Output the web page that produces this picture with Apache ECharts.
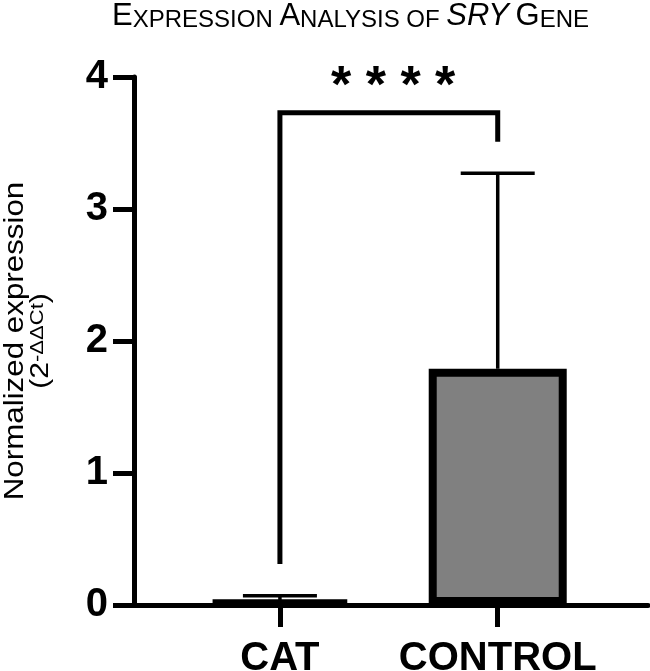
<!DOCTYPE html>
<html>
<head>
<meta charset="utf-8">
<script src="https://cdn.jsdelivr.net/npm/echarts@6/dist/echarts.min.js"></script>
<style>
  html, body { margin: 0; padding: 0; background: #fff; }
  #chart { width: 650px; height: 671px; }
</style>
</head>
<body>
<div id="chart"></div>
<script>
// data
var categories = ["CAT", "CONTROL"];
var means = [0.025, 1.79];
var sd = [0.045, 1.48];          // upper error bar length
var yTicks = [0, 1, 2, 3, 4];
var sigLabel = "* * * *";
var bracketX = [0, 0, 1, 1];
var bracketY = [0.31, 3.73, 3.73, 3.51];
var sigPos = [0.52, 3.92];

var font = "'Liberation Sans', Arial, sans-serif";
var chart = echarts.init(document.getElementById("chart"));

var barData = [];
var errData = [];
for (var i = 0; i < categories.length; i++) {
  barData.push([i, means[i]]);
  errData.push([i, means[i], means[i] + sd[i]]);
}

var option = {
  animation: false,
  backgroundColor: "#fff",
  title: {
    text: "{b|E}{s|XPRESSION} {b|A}{s|NALYSIS} {s|OF} {bi|SRY} {b|G}{s|ENE}",
    left: 112,
    top: 0,
    padding: 0,
    textStyle: {
      fontFamily: font,
      fontSize: 24,
      fontWeight: "normal",
      color: "#000",
      rich: {
        b: { fontFamily: font, fontSize: 31, color: "#000", verticalAlign: "bottom", lineHeight: 32 },
        s: { fontFamily: font, fontSize: 24, color: "#000", verticalAlign: "bottom", lineHeight: 32 },
        bi: { fontFamily: font, fontSize: 31, fontStyle: "italic", color: "#000", verticalAlign: "bottom", lineHeight: 32 }
      }
    }
  },
  // y axis title, stretched a bit along its length like the original
  graphic: [
    {
      type: "text",
      x: 28.5,
      y: 341,
      rotation: Math.PI / 2,
      scaleX: 1.16,
      style: {
        text: "{n|Normalized expression}\n{p|(2}{s|-ΔΔCt}{p|)}",
        align: "center",
        verticalAlign: "middle",
        fill: "#000",
        rich: {
          n: { fontFamily: font, fontSize: 27, lineHeight: 25, fill: "#000" },
          p: { fontFamily: font, fontSize: 26, lineHeight: 25, fill: "#000" },
          s: { fontFamily: font, fontSize: 19, lineHeight: 25, fill: "#000", verticalAlign: "top" }
        }
      }
    }
  ],
  grid: { left: 134, right: 2, top: 77, bottom: 66, outerBoundsMode: "none" },
  xAxis: {
    type: "value",
    min: -0.67,
    max: 1.69,
    splitLine: { show: false },
    axisLine: { onZero: false, lineStyle: { color: "#000", width: 5 } },
    axisTick: { customValues: [0, 1], length: 22, lineStyle: { color: "#000", width: 5 } },
    axisLabel: {
      customValues: [0, 1],
      formatter: function (v) { return categories[Math.round(v)]; },
      fontFamily: font,
      fontSize: 40,
      fontWeight: "bold",
      color: "#000",
      margin: 34
    }
  },
  yAxis: {
    type: "value",
    min: yTicks[0],
    max: yTicks[yTicks.length - 1],
    interval: 1,
    splitLine: { show: false },
    axisLine: { show: true, onZero: false, lineStyle: { color: "#000", width: 5 } },
    axisTick: { show: true, length: 21, lineStyle: { color: "#000", width: 5 } },
    axisLabel: { fontFamily: font, fontSize: 40, fontWeight: "bold", color: "#000", margin: 26 }
  },
  series: [
    {
      type: "bar",
      data: barData,
      barWidth: 138,
      clip: false,
      itemStyle: { color: "#808080", borderColor: "#000", borderWidth: 8 },
      z: 2
    },
    {
      type: "custom",
      data: errData,
      z: 3,
      renderItem: function (params, api) {
        var x = api.value(0);
        var p0 = api.coord([x, api.value(1)]);
        var p1 = api.coord([x, api.value(2)]);
        var half = 37;
        var st = { stroke: "#000", lineWidth: 3.5 };
        return {
          type: "group",
          children: [
            { type: "line", shape: { x1: p0[0], y1: p0[1], x2: p1[0], y2: p1[1] }, style: st },
            { type: "line", shape: { x1: p1[0] - half, y1: p1[1], x2: p1[0] + half, y2: p1[1] }, style: st }
          ]
        };
      }
    },
    {
      type: "custom",
      data: [0],
      z: 4,
      renderItem: function (params, api) {
        var pts = [];
        for (var k = 0; k < bracketX.length; k++) {
          pts.push(api.coord([bracketX[k], bracketY[k]]));
        }
        var sp = api.coord(sigPos);
        return {
          type: "group",
          children: [
            { type: "polyline", shape: { points: pts }, style: { stroke: "#000", lineWidth: 5, fill: null } },
            {
              type: "text",
              x: sp[0],
              y: sp[1],
              style: {
                text: sigLabel,
                fontFamily: font,
                fontSize: 52,
                fontWeight: "bold",
                fill: "#000",
                align: "center",
                verticalAlign: "middle"
              }
            }
          ]
        };
      }
    }
  ]
};
chart.setOption(option);
</script>
</body>
</html>
